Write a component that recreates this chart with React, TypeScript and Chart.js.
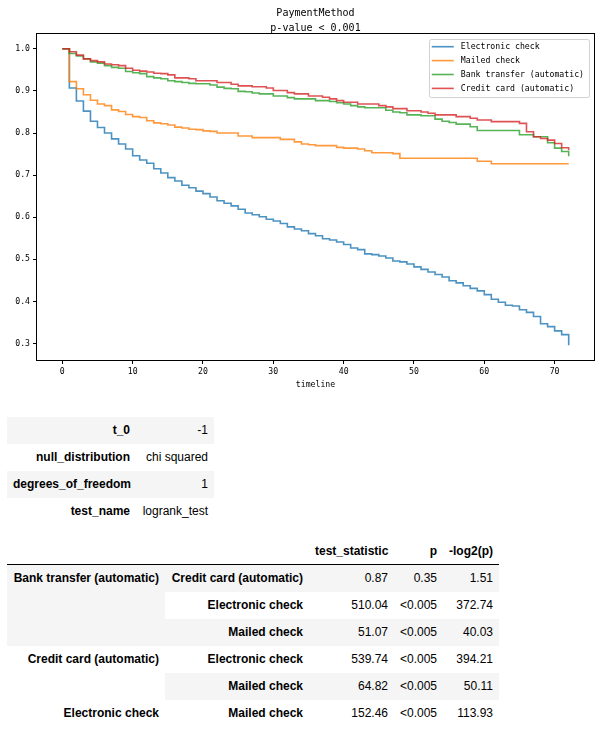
import React, { useEffect, useRef } from 'react';
import { Chart, registerables } from 'chart.js';

Chart.register(...registerables);

// ---------------- data ----------------
const TITLE_LINES = ['PaymentMethod', 'p-value < 0.001'];
const X_LABEL = 'timeline';

const TIMELINE = [
  0, 1, 2, 3, 4, 5, 6, 7, 8, 9,
  10, 11, 12, 13, 14, 15, 16, 17, 18, 19,
  20, 21, 22, 23, 24, 25, 26, 27, 28, 29,
  30, 31, 32, 33, 34, 35, 36, 37, 38, 39,
  40, 41, 42, 43, 44, 45, 46, 47, 48, 49,
  50, 51, 52, 53, 54, 55, 56, 57, 58, 59,
  60, 61, 62, 63, 64, 65, 66, 67, 68, 69,
  70, 71, 72,
];

const ELECTRONIC_CHECK = [
  1.0, 0.907, 0.876, 0.852, 0.828, 0.813, 0.800, 0.786, 0.774, 0.762,
  0.746, 0.736, 0.728, 0.715, 0.705, 0.694, 0.686, 0.676, 0.670, 0.662,
  0.656, 0.648, 0.639, 0.633, 0.627, 0.619, 0.610, 0.606, 0.601, 0.595,
  0.591, 0.585, 0.577, 0.572, 0.568, 0.561, 0.556, 0.549, 0.546, 0.541,
  0.535, 0.527, 0.523, 0.513, 0.511, 0.508, 0.503, 0.496, 0.494, 0.489,
  0.482, 0.476, 0.470, 0.464, 0.458, 0.449, 0.444, 0.437, 0.431, 0.425,
  0.416, 0.405, 0.398, 0.391, 0.389, 0.380, 0.374, 0.364, 0.347, 0.340,
  0.330, 0.321, 0.296,
];

const MAILED_CHECK = [
  1.0, 0.922, 0.905, 0.891, 0.878, 0.869, 0.865, 0.855, 0.851, 0.844,
  0.839, 0.837, 0.829, 0.824, 0.822, 0.819, 0.814, 0.812, 0.809, 0.808,
  0.805, 0.804, 0.800, 0.800, 0.800, 0.793, 0.793, 0.789, 0.789, 0.789,
  0.789, 0.785, 0.785, 0.779, 0.774, 0.772, 0.770, 0.770, 0.770, 0.766,
  0.764, 0.764, 0.762, 0.758, 0.753, 0.753, 0.753, 0.751, 0.740, 0.740,
  0.740, 0.740, 0.740, 0.740, 0.740, 0.740, 0.740, 0.740, 0.740, 0.733,
  0.733, 0.727, 0.727, 0.727, 0.727, 0.727, 0.727, 0.727, 0.727, 0.727,
  0.727, 0.727, 0.727,
];

const BANK_TRANSFER = [
  1.0, 0.989, 0.983, 0.976, 0.969, 0.966, 0.960, 0.956, 0.954, 0.946,
  0.943, 0.941, 0.934, 0.931, 0.929, 0.924, 0.922, 0.920, 0.918, 0.917,
  0.917, 0.914, 0.909, 0.906, 0.905, 0.899, 0.898, 0.895, 0.893, 0.893,
  0.888, 0.888, 0.884, 0.881, 0.881, 0.881, 0.877, 0.877, 0.875, 0.872,
  0.869, 0.865, 0.862, 0.860, 0.860, 0.860, 0.854, 0.850, 0.848, 0.843,
  0.843, 0.841, 0.841, 0.833, 0.828, 0.825, 0.821, 0.821, 0.815, 0.806,
  0.806, 0.806, 0.806, 0.806, 0.806, 0.796, 0.796, 0.791, 0.791, 0.777,
  0.764, 0.756, 0.745,
];

const CREDIT_CARD = [
  1.0, 0.993, 0.985, 0.976, 0.972, 0.969, 0.964, 0.962, 0.960, 0.954,
  0.949, 0.947, 0.945, 0.942, 0.941, 0.938, 0.931, 0.931, 0.929, 0.924,
  0.924, 0.924, 0.920, 0.920, 0.916, 0.912, 0.912, 0.910, 0.910, 0.907,
  0.901, 0.901, 0.896, 0.893, 0.893, 0.888, 0.888, 0.885, 0.881, 0.877,
  0.873, 0.873, 0.869, 0.869, 0.869, 0.865, 0.862, 0.858, 0.858, 0.853,
  0.853, 0.850, 0.847, 0.843, 0.843, 0.843, 0.839, 0.839, 0.835, 0.831,
  0.831, 0.827, 0.827, 0.827, 0.827, 0.823, 0.803, 0.791, 0.787, 0.783,
  0.775, 0.765, 0.759,
];

const SERIES_LABELS = ['Electronic check', 'Mailed check', 'Bank transfer (automatic)', 'Credit card (automatic)'];
const SERIES_VALUES = [ELECTRONIC_CHECK, MAILED_CHECK, BANK_TRANSFER, CREDIT_CARD];
const SERIES_COLORS = ['rgba(31,119,180,0.8)', 'rgba(255,127,14,0.8)', 'rgba(44,160,44,0.8)', 'rgba(214,39,40,0.8)'];

const X_TICKS = [0, 10, 20, 30, 40, 50, 60, 70];
const Y_TICKS = [0.3, 0.4, 0.5, 0.6, 0.7, 0.8, 0.9, 1.0];

// summary table 1
const INFO_KEYS = ['t_0', 'null_distribution', 'degrees_of_freedom', 'test_name'];
const INFO_VALUES = ['-1', 'chi squared', '1', 'logrank_test'];

// summary table 2
const RESULT_COLUMNS = ['test_statistic', 'p', '-log2(p)'];
const PAIR_A = ['Bank transfer (automatic)', 'Bank transfer (automatic)', 'Bank transfer (automatic)', 'Credit card (automatic)', 'Credit card (automatic)', 'Electronic check'];
const PAIR_B = ['Credit card (automatic)', 'Electronic check', 'Mailed check', 'Electronic check', 'Mailed check', 'Mailed check'];
const TEST_STATISTIC = ['0.87', '510.04', '51.07', '539.74', '64.82', '152.46'];
const P_VALUE = ['0.35', '<0.005', '<0.005', '<0.005', '<0.005', '<0.005'];
const NEG_LOG2_P = ['1.51', '372.74', '40.03', '394.21', '50.11', '113.93'];

// ---------------- chart ----------------
const MONO = "'DejaVu Sans Mono', 'Liberation Mono', monospace";
const TABLE_FONT = "'Liberation Sans', Arial, Helvetica, sans-serif";

const framePlugin = {
  id: 'axesFrame',
  afterDatasetsDraw(chart: any) {
    const { ctx, chartArea: a } = chart;
    ctx.save();
    ctx.strokeStyle = '#000';
    ctx.lineWidth = 1;
    ctx.strokeRect(a.left - 0.5, a.top - 0.5, a.right - a.left + 1, a.bottom - a.top + 1);
    ctx.restore();
  },
};

const titlePlugin = {
  id: 'axesTitle',
  afterDraw(chart: any) {
    const { ctx, chartArea: a } = chart;
    ctx.save();
    ctx.font = `10px ${MONO}`;
    ctx.fillStyle = '#000';
    ctx.textAlign = 'center';
    ctx.textBaseline = 'middle';
    const cx = (a.left + a.right) / 2;
    TITLE_LINES.forEach((t, i) => ctx.fillText(t, cx, a.top - 21 + i * 15));
    ctx.restore();
  },
};

const legendPlugin = {
  id: 'boxLegend',
  afterDraw(chart: any) {
    const { ctx, chartArea: a } = chart;
    const ds = chart.data.datasets;
    ctx.save();
    ctx.font = `8.2px ${MONO}`;
    let tw = 0;
    ds.forEach((d: any) => { tw = Math.max(tw, ctx.measureText(d.label).width); });
    const w = 32 + tw + 5;
    const h = 58;
    const right = a.right - 5;
    const left = right - w;
    const top = a.top + 5;
    ctx.beginPath();
    (ctx as any).roundRect(Math.round(left) + 0.5, Math.round(top) + 0.5, Math.round(w), h, 2);
    ctx.fillStyle = 'rgba(255,255,255,0.8)';
    ctx.fill();
    ctx.strokeStyle = 'rgba(204,204,204,0.9)';
    ctx.lineWidth = 1;
    ctx.stroke();
    ds.forEach((d: any, i: number) => {
      const cy = top + 7.7 + i * 13.9;
      ctx.beginPath();
      ctx.moveTo(left + 3, cy);
      ctx.lineTo(left + 25, cy);
      ctx.strokeStyle = d.borderColor;
      ctx.lineWidth = 1.6;
      ctx.stroke();
      ctx.fillStyle = '#000';
      ctx.textAlign = 'left';
      ctx.textBaseline = 'middle';
      ctx.fillText(d.label, left + 32, cy);
    });
    ctx.restore();
  },
};

function buildConfig(): any {
  const allY = SERIES_VALUES.flat();
  const yLo = Math.min(...allY);
  const yHi = Math.max(...allY);
  const yPad = (yHi - yLo) * 0.05;
  const xLo = Math.min(...TIMELINE);
  const xHi = Math.max(...TIMELINE);
  const xPad = (xHi - xLo) * 0.05;
  const tickFont = { family: MONO, size: 8.2 };
  const grid = { display: true, drawOnChartArea: false, drawTicks: true, tickLength: 4, color: '#000', lineWidth: 1 };

  return {
    type: 'line',
    data: {
      datasets: SERIES_LABELS.map((label, i) => ({
        label,
        data: TIMELINE.map((t, j) => ({ x: t, y: SERIES_VALUES[i][j] })),
        borderColor: SERIES_COLORS[i],
        backgroundColor: SERIES_COLORS[i],
        borderWidth: 1.6,
        pointRadius: 0,
        stepped: 'before',
        fill: false,
        order: SERIES_LABELS.length - 1 - i,
      })),
    },
    options: {
      responsive: false,
      maintainAspectRatio: false,
      animation: false,
      devicePixelRatio: 1,
      layout: { padding: { top: 34, right: 6, left: 0, bottom: 8 } },
      plugins: {
        legend: { display: false },
        title: { display: false },
        tooltip: { enabled: false },
      },
      scales: {
        x: {
          type: 'linear',
          min: xLo - xPad,
          max: xHi + xPad,
          afterFit: (s: any) => { s.height = 32; },
          afterBuildTicks: (s: any) => { s.ticks = X_TICKS.map((v) => ({ value: v })); },
          grid,
          border: { display: false },
          ticks: { font: tickFont, color: '#000', padding: 3, maxRotation: 0, autoSkip: false, callback: (v: any) => String(v) },
          title: { display: true, text: X_LABEL, color: '#000', font: { family: MONO, size: 8.2 }, padding: { top: 0, bottom: 2.5 } },
        },
        y: {
          type: 'linear',
          min: yLo - yPad,
          max: yHi + yPad,
          afterFit: (s: any) => { s.width = 37; },
          afterBuildTicks: (s: any) => { s.ticks = Y_TICKS.map((v) => ({ value: v })); },
          grid,
          border: { display: false },
          ticks: { font: tickFont, color: '#000', padding: 3, autoSkip: false, callback: (v: any) => Number(v).toFixed(1) },
        },
      },
    },
    plugins: [framePlugin, titlePlugin, legendPlugin],
  };
}

// ---------------- tables ----------------
const ROW_H = 27;
const cellBase: React.CSSProperties = {
  padding: '0 6px',
  height: ROW_H,
  lineHeight: `${ROW_H}px`,
  textAlign: 'right',
  verticalAlign: 'middle',
  whiteSpace: 'nowrap',
  fontSize: 12,
  fontFamily: TABLE_FONT,
  color: '#000',
  border: 'none',
  overflow: 'hidden',
  boxSizing: 'border-box',
};
const thStyle: React.CSSProperties = { ...cellBase, fontWeight: 'bold' };
const tdStyle: React.CSSProperties = { ...cellBase, fontWeight: 'normal' };
const tableStyle: React.CSSProperties = {
  position: 'absolute',
  borderCollapse: 'collapse',
  borderSpacing: 0,
  tableLayout: 'fixed',
};
const SHADE = '#f5f5f5';

function InfoTable() {
  return (
    <table style={{ ...tableStyle, left: 7, top: 417, width: 207 }}>
      <colgroup>
        <col style={{ width: 129 }} />
        <col style={{ width: 78 }} />
      </colgroup>
      <tbody>
        {INFO_KEYS.map((k, i) => (
          <tr key={k} style={{ background: i % 2 === 0 ? SHADE : '#fff' }}>
            <th style={thStyle}>{k}</th>
            <td style={tdStyle}>{INFO_VALUES[i]}</td>
          </tr>
        ))}
      </tbody>
    </table>
  );
}

function ResultTable() {
  const spans = PAIR_A.map((a, i) => {
    if (i > 0 && PAIR_A[i - 1] === a) return 0;
    let n = 1;
    while (i + n < PAIR_A.length && PAIR_A[i + n] === a) n++;
    return n;
  });
  return (
    <table style={{ ...tableStyle, left: 7, top: 538, width: 492 }}>
      <colgroup>
        <col style={{ width: 158 }} />
        <col style={{ width: 144 }} />
        <col style={{ width: 85 }} />
        <col style={{ width: 49 }} />
        <col style={{ width: 56 }} />
      </colgroup>
      <thead>
        <tr style={{ borderBottom: '1px solid #000', background: '#fff' }}>
          <th style={{ ...thStyle, height: 26, lineHeight: '26px' }}></th>
          <th style={{ ...thStyle, height: 26, lineHeight: '26px' }}></th>
          {RESULT_COLUMNS.map((c) => (
            <th key={c} style={{ ...thStyle, height: 26, lineHeight: '26px' }}>{c}</th>
          ))}
        </tr>
      </thead>
      <tbody>
        {PAIR_B.map((b, i) => (
          <tr key={i} style={{ background: i % 2 === 0 ? SHADE : '#fff' }}>
            {spans[i] > 0 && (
              <th rowSpan={spans[i]} style={{ ...thStyle, verticalAlign: 'top' }}>{PAIR_A[i]}</th>
            )}
            <th style={thStyle}>{b}</th>
            <td style={tdStyle}>{TEST_STATISTIC[i]}</td>
            <td style={tdStyle}>{P_VALUE[i]}</td>
            <td style={tdStyle}>{NEG_LOG2_P[i]}</td>
          </tr>
        ))}
      </tbody>
    </table>
  );
}

export default function App() {
  const ref = useRef<HTMLCanvasElement>(null);
  useEffect(() => {
    if (!ref.current) return;
    const chart = new Chart(ref.current, buildConfig());
    return () => chart.destroy();
  }, []);
  return (
    <div style={{ position: 'absolute', left: 0, top: 0, width: 600, height: 740, background: '#fff' }}>
      <canvas
        ref={ref}
        width={600}
        height={400}
        style={{ position: 'absolute', left: 0, top: 0, width: 600, height: 400, display: 'block' }}
      />
      <InfoTable />
      <ResultTable />
    </div>
  );
}
